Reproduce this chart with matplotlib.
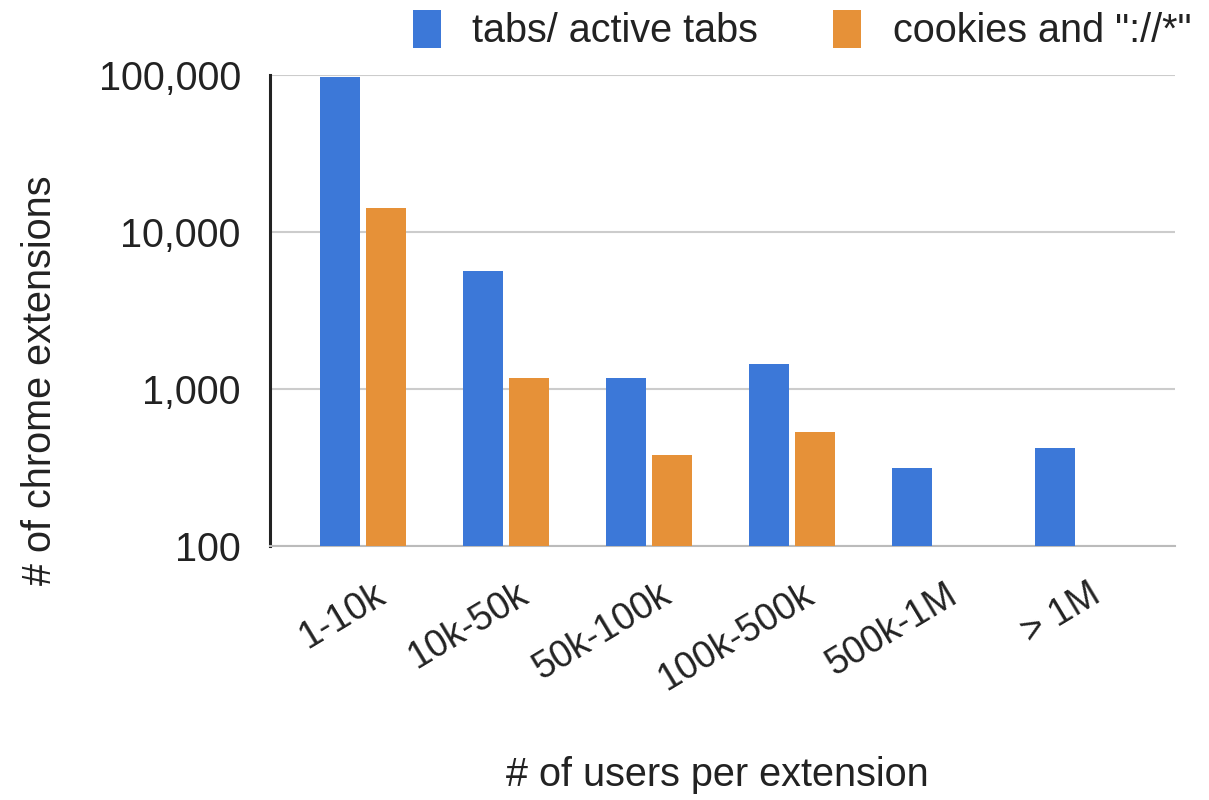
import numpy as np
import matplotlib
matplotlib.use('Agg')
import matplotlib.pyplot as plt
from matplotlib.patches import Patch
import matplotlib.transforms as mtransforms

plt.rcParams['font.family'] = ['Liberation Sans', 'DejaVu Sans']

# Data
categories = ['1-10k', '10k-50k', '50k-100k', '100k-500k', '500k-1M', '> 1M']
tabs = [97000, 5650, 1175, 1440, 314, 421]
cookies = [14200, 1175, 381, 532, np.nan, np.nan]
series_names = ['tabs/ active tabs', 'cookies and "://*"']
yticks = [100, 1000, 10000, 100000]
ytick_labels = ['100', '1,000', '10,000', '100,000']

BLUE = '#3c78d8'
ORANGE = '#e69138'
TXT = '#222222'

fig = plt.figure(figsize=(12.09, 8), dpi=100)
ax = fig.add_axes([270/1209, 1 - 546/800, (1175 - 270)/1209, (546 - 75)/800])

x = np.arange(len(categories))
w = 0.28
off = 0.16
ax.bar(x - off, tabs, width=w, color=BLUE, zorder=3)
ax.bar(x + off, cookies, width=w, color=ORANGE, zorder=3)

ax.set_yscale('log')
ax.set_ylim(100, 100000)
ax.set_xlim(-0.65, 5.68)
ax.set_yticks(yticks)
ax.set_yticklabels(ytick_labels, fontsize=28.5, color=TXT)
ax.yaxis.set_minor_locator(matplotlib.ticker.NullLocator())
ax.tick_params(axis='y', length=0, pad=21)
ax.grid(axis='y', color='#cccccc', linewidth=1.5, zorder=0)

ax.set_xticks(x)
ax.set_xticklabels(categories, fontsize=27, color=TXT, rotation=31,
                   ha='right', va='top', rotation_mode='anchor')
ax.tick_params(axis='x', length=0, pad=22)
# nudge rotated labels so their right end sits just past the group centre
shift = mtransforms.ScaledTranslation(10/100, 0, fig.dpi_scale_trans)
for lab in ax.get_xticklabels():
    lab.set_transform(lab.get_transform() + shift)

for s in ['top', 'right']:
    ax.spines[s].set_visible(False)
ax.spines['left'].set_linewidth(2.2)
ax.spines['left'].set_color(TXT)
ax.spines['bottom'].set_color('#bbbbbb')
ax.spines['bottom'].set_linewidth(1.5)

fig.text(40/1209, 1 - 380/800, '# of chrome extensions', rotation=90,
         ha='center', va='center', fontsize=28.5, color=TXT)
fig.text(717/1209, 1 - 775/800, '# of users per extension',
         ha='center', va='center', fontsize=28.5, color=TXT)

handles = [Patch(facecolor=BLUE), Patch(facecolor=ORANGE)]
fig.legend(handles, series_names, loc='center', ncol=2,
           bbox_to_anchor=(802/1209, 1 - 30/800), frameon=False,
           fontsize=28.5, handlelength=0.7, handleheight=1.1,
           handletextpad=0.8, columnspacing=1.9, labelcolor=TXT)

fig.savefig('out.png', dpi=100, facecolor='white')
